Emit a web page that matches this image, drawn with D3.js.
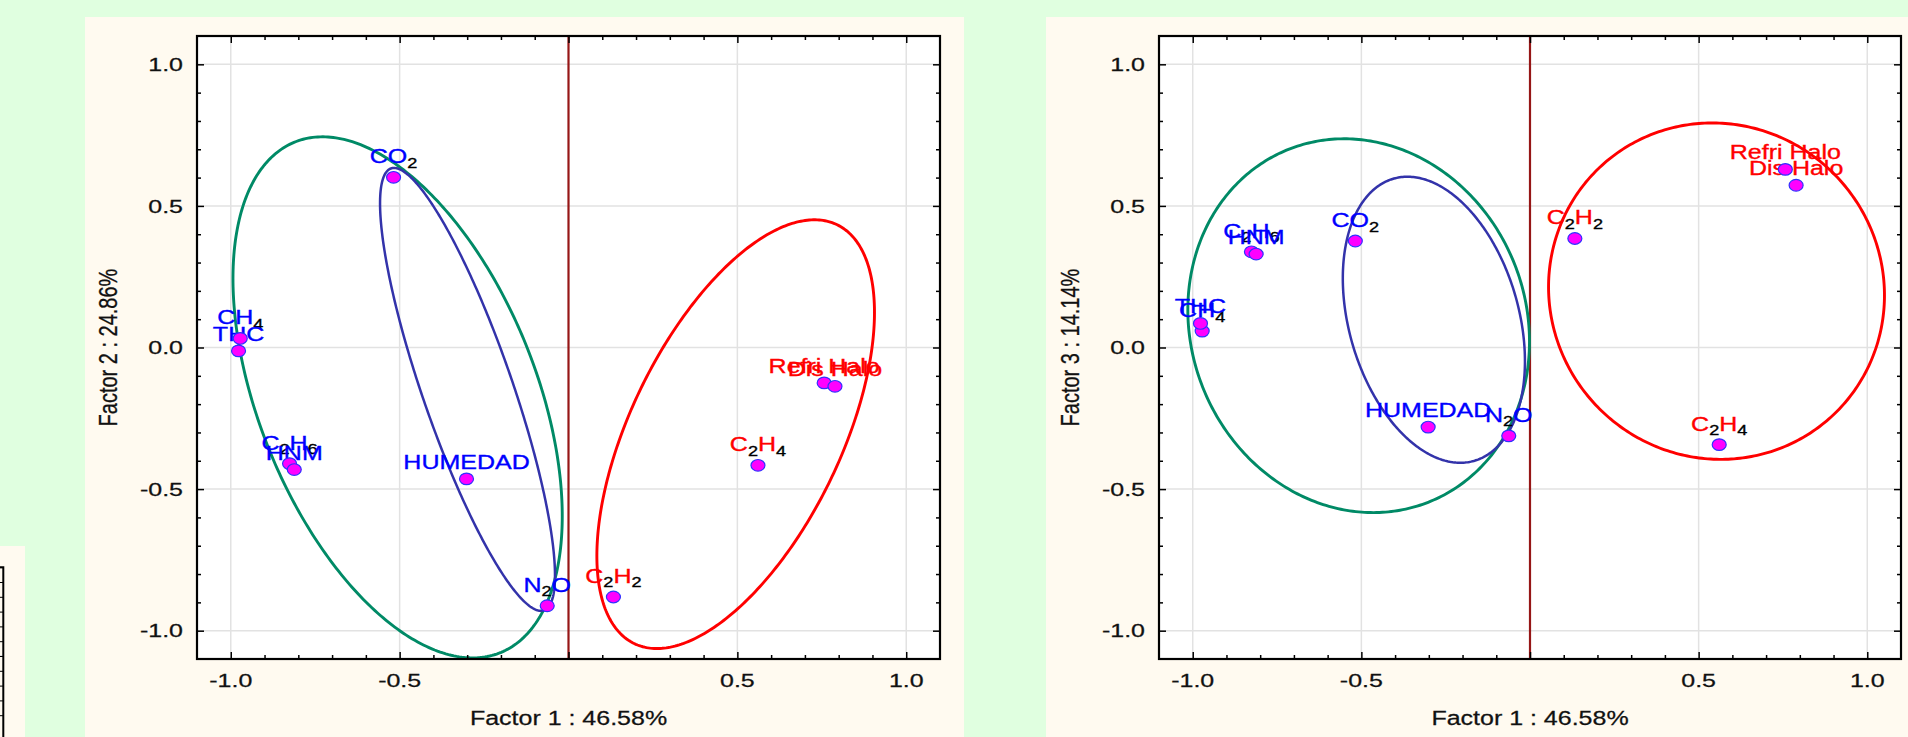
<!DOCTYPE html>
<html>
<head>
<meta charset="utf-8">
<style>
  body { margin: 0; background: #e0ffe0; }
  svg { display: block; }
  text { font-family: "Liberation Sans", Arial, sans-serif; }
</style>
</head>
<body>
<svg width="1908" height="737"></svg>
<script src="https://d3js.org/d3.v7.min.js"></script>
<script>
// variables (subindice marcado con _)
var variables = ["CO_2", "CH_4", "THC", "C_2H_6", "HNM", "HUMEDAD", "N_2O", "C_2H_2", "C_2H_4", "Refri Halo", "Dis Halo"];
var grupo = [1, 1, 1, 1, 1, 1, 1, 2, 2, 2, 2];
var factor1 = [-0.518, -0.972, -0.977, -0.826, -0.812, -0.302, -0.063, 0.133, 0.561, 0.757, 0.789];
var factor2 = [0.601, 0.032, -0.012, -0.410, -0.431, -0.464, -0.912, -0.881, -0.416, -0.125, -0.137];
var factor3 = [0.376, 0.058, 0.085, 0.338, 0.330, -0.281, -0.312, 0.385, -0.343, 0.629, 0.573];
var factorNames = ["Factor 1 : 46.58%", "Factor 2 : 24.86%", "Factor 3 : 14.14%"];

// elipses [cx, cy, sx, sy, r] : verde, azul, roja
var elipses12 = [[-0.506, -0.176, 0.4875, 0.920, -0.456],
                 [-0.299, -0.148, 0.259, 0.782, -0.84],
                 [0.495, -0.306, 0.411, 0.757, 0.568]];
var elipses13 = [[-0.508, 0.077, 0.5065, 0.660, -0.085],
                 [-0.285, 0.098, 0.270, 0.505, -0.29],
                 [0.553, 0.199, 0.498, 0.594, -0.025]];

var xTickLabels = [-1.0, -0.5, 0.5, 1.0];
var yTickLabels = [1.0, 0.5, 0.0, -0.5, -1.0];
var majorTicks = [-1.0, -0.5, 0.0, 0.5, 1.0];
var minorTicks = [-0.9, -0.8, -0.7, -0.6, -0.4, -0.3, -0.2, -0.1, 0.1, 0.2, 0.3, 0.4, 0.6, 0.7, 0.8, 0.9];

var ellColors = ["#008a66", "#3333aa", "#ff0000"];
var grpColors = {1: "#0000ff", 2: "#ff0000"};
var SX = 1.25; // estiramiento horizontal del texto

var svg = d3.select("svg");

// fondos crema de los paneles
svg.append("rect").attr("x", 85).attr("y", 17).attr("width", 879).attr("height", 720).attr("fill", "#fffaf0");
svg.append("rect").attr("x", 1046).attr("y", 17).attr("width", 862).attr("height", 720).attr("fill", "#fffaf0");
svg.append("rect").attr("x", 0).attr("y", 546).attr("width", 25).attr("height", 191).attr("fill", "#fffaf0");

// fragmento de otro grafico (abajo a la izquierda)
var yf = d3.scaleLinear().domain([1.0, 0.0]).range([656, 804]);
var frag = svg.append("g");
frag.append("line").attr("x1", 0).attr("x2", 3).attr("y1", yf(1.0)).attr("y2", yf(1.0)).attr("stroke", "#e0e0e0").attr("stroke-width", 2);
frag.append("g").attr("transform", "translate(3,0)")
  .call(d3.axisLeft(yf).tickValues(d3.range(11).map(function(i) { return 1.6 - i / 10; })).tickSizeInner(3).tickSizeOuter(0).tickFormat(""))
  .call(function(g) { g.select(".domain").remove(); });
frag.append("path").attr("d", "M0," + yf(1.6) + "H3.3V737").attr("fill", "none").attr("stroke", "#000").attr("stroke-width", 2);

function ellipsePoints(e) {
  var s = Math.sqrt(1 - e[4] * e[4]);
  return d3.range(0, 360, 1).map(function(a) {
    var t = a * Math.PI / 180;
    return [e[0] + e[2] * Math.cos(t), e[1] + e[3] * (e[4] * Math.cos(t) + s * Math.sin(t))];
  });
}

function addLabel(g, name, color, px, py) {
  var parts = name.split(/(_\d)/).filter(function(p) { return p.length; });
  var hasSub = parts.some(function(p) { return p[0] === "_"; });
  var t = g.append("text")
    .attr("transform", "translate(" + px + "," + (py - (hasSub ? 14 : 10)) + ") scale(" + SX + ",1)")
    .attr("text-anchor", "middle")
    .attr("font-size", 20)
    .attr("stroke-width", 0.35);
  var down = false;
  parts.forEach(function(p) {
    if (p[0] === "_") {
      t.append("tspan").text(p.slice(1)).attr("font-size", 14.5).attr("fill", "#000").attr("stroke", "#000").attr("dy", down ? 0 : 4.5);
      down = true;
    } else {
      t.append("tspan").text(p).attr("fill", color).attr("stroke", color).attr("dy", down ? -4.5 : 0);
      down = false;
    }
  });
}

function drawPanel(box, xVals, yVals, ellipses, xTitle, yTitle) {
  var x = d3.scaleLinear().domain([-1.1, 1.1]).range([box.left, box.right]);
  var y = d3.scaleLinear().domain([-1.1, 1.1]).range([box.bottom, box.top]);
  var g = svg.append("g");

  g.append("rect").attr("x", box.left).attr("y", box.top)
    .attr("width", box.right - box.left).attr("height", box.bottom - box.top).attr("fill", "#fff");

  // rejilla
  g.selectAll(".gx").data(majorTicks.filter(function(d) { return d !== 0; })).enter().append("line")
    .attr("x1", function(d) { return x(d); }).attr("x2", function(d) { return x(d); })
    .attr("y1", box.top).attr("y2", box.bottom).attr("stroke", "#e2e2e2").attr("stroke-width", 1.5);
  g.selectAll(".gy").data(majorTicks).enter().append("line")
    .attr("y1", function(d) { return y(d); }).attr("y2", function(d) { return y(d); })
    .attr("x1", box.left).attr("x2", box.right).attr("stroke", "#e2e2e2").attr("stroke-width", 1.5);

  // linea vertical en cero
  g.append("line").attr("x1", x(0)).attr("x2", x(0)).attr("y1", box.top).attr("y2", box.bottom)
    .attr("stroke", "#961616").attr("stroke-width", 2.2);

  // elipses
  var line = d3.line().x(function(d) { return x(d[0]); }).y(function(d) { return y(d[1]); }).curve(d3.curveLinearClosed);
  ellipses.forEach(function(e, i) {
    g.append("path").attr("d", line(ellipsePoints(e))).attr("fill", "none")
      .attr("stroke", ellColors[i]).attr("stroke-width", i === 1 ? 2.5 : 2.9);
  });

  // etiquetas y puntos
  variables.forEach(function(v, i) {
    addLabel(g, v, grpColors[grupo[i]], x(xVals[i]), y(yVals[i]));
  });
  variables.forEach(function(v, i) {
    g.append("ellipse").attr("cx", x(xVals[i])).attr("cy", y(yVals[i]))
      .attr("rx", 7).attr("ry", 5.8).attr("fill", "#ff00ff").attr("stroke", "#3030ff").attr("stroke-width", 1.2);
  });

  // marcas de los ejes hacia adentro
  function ticks(axisFn, scale, vals, len, tr) {
    g.append("g").attr("transform", tr)
      .call(axisFn(scale).tickValues(vals).tickSizeInner(-len).tickSizeOuter(0).tickFormat(""))
      .call(function(s) { s.select(".domain").remove(); s.selectAll("line").attr("stroke", "#000").attr("stroke-width", 1.5); });
  }
  [[majorTicks, 7], [minorTicks, 4]].forEach(function(tk) {
    ticks(d3.axisBottom, x, tk[0], tk[1], "translate(0," + box.bottom + ")");
    ticks(d3.axisTop, x, tk[0], tk[1], "translate(0," + box.top + ")");
    ticks(d3.axisLeft, y, tk[0], tk[1], "translate(" + box.left + ",0)");
    ticks(d3.axisRight, y, tk[0], tk[1], "translate(" + box.right + ",0)");
  });

  g.append("rect").attr("x", box.left).attr("y", box.top)
    .attr("width", box.right - box.left).attr("height", box.bottom - box.top)
    .attr("fill", "none").attr("stroke", "#000").attr("stroke-width", 2.2);

  // etiquetas de los ejes
  xTickLabels.forEach(function(d) {
    g.append("text").attr("transform", "translate(" + x(d) + "," + (box.bottom + 28) + ") scale(1.35,1)")
      .attr("text-anchor", "middle").attr("font-size", 18.5).attr("fill", "#111")
      .attr("stroke", "#111").attr("stroke-width", 0.25).text(d.toFixed(1));
  });
  yTickLabels.forEach(function(d) {
    g.append("text").attr("transform", "translate(" + (box.left - 14) + "," + (y(d) + 6.7) + ") scale(1.35,1)")
      .attr("text-anchor", "end").attr("font-size", 18.5).attr("fill", "#111")
      .attr("stroke", "#111").attr("stroke-width", 0.25).text(d.toFixed(1));
  });
  g.append("text").attr("transform", "translate(" + x(0) + "," + (box.bottom + 66) + ") scale(" + SX + ",1)")
    .attr("text-anchor", "middle").attr("font-size", 20).attr("fill", "#111")
    .attr("stroke", "#111").attr("stroke-width", 0.25).text(xTitle);
  g.append("text").attr("transform", "translate(" + (box.left - 80) + "," + y(0) + ") scale(" + SX + ",1) rotate(-90)")
    .attr("text-anchor", "middle").attr("font-size", 20).attr("fill", "#111")
    .attr("stroke", "#111").attr("stroke-width", 0.25).text(yTitle);
}

drawPanel({left: 197, right: 940, top: 36, bottom: 659}, factor1, factor2, elipses12, factorNames[0], factorNames[1]);
drawPanel({left: 1159, right: 1901, top: 36, bottom: 659}, factor1, factor3, elipses13, factorNames[0], factorNames[2]);
</script>
</body>
</html>
